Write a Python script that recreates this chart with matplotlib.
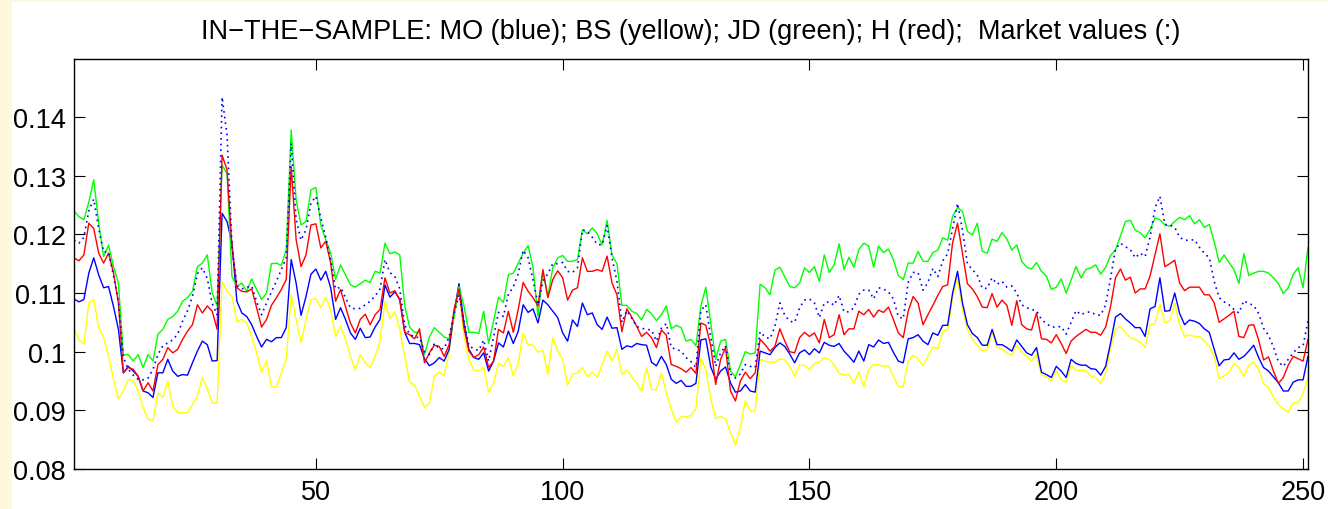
import numpy as np
import matplotlib
matplotlib.use("Agg")
import matplotlib.pyplot as plt
from matplotlib.patches import Rectangle
from matplotlib.ticker import FuncFormatter

plt.rcParams['font.family'] = ['Liberation Sans', 'DejaVu Sans']

# values, in thousandths (0.124 -> 124.0)
mo = [109.0, 108.5, 108.9, 113.4, 116.0, 113.1, 110.9, 111.1, 107.7, 103.8,
      96.4, 97.5, 96.7, 95.8, 93.3, 93.0, 92.2, 96.4, 96.4, 98.7,
      96.7, 95.8, 96.1, 96.0, 98.1, 100.1, 101.8, 101.2, 98.4, 98.5,
      123.6, 122.2, 118.5, 108.6, 106.6, 106.0, 104.6, 102.6, 100.8, 102.1,
      101.7, 102.4, 102.4, 104.1, 115.7, 111.7, 106.2, 109.4, 113.2, 114.1,
      112.2, 113.7, 110.9, 105.5, 107.5, 105.5, 103.2, 102.1, 104.0, 102.4,
      102.5, 104.2, 105.5, 111.4, 109.3, 110.2, 108.9, 103.3, 101.4, 101.4,
      101.2, 98.8, 97.6, 98.1, 99.0, 98.4, 100.4, 106.6, 111.6, 104.9,
      100.4, 99.0, 98.7, 99.8, 96.7, 98.4, 101.5, 100.8, 103.5, 101.4,
      103.5, 108.0, 106.7, 107.3, 104.9, 108.8, 108.0, 106.9, 105.8, 103.2,
      101.8, 105.4, 104.3, 108.3, 106.3, 106.6, 104.6, 103.8, 105.9, 104.0,
      104.1, 100.4, 101.0, 100.8, 101.4, 101.2, 101.1, 98.2, 97.6, 99.2,
      97.8, 95.3, 94.6, 95.1, 94.1, 94.1, 94.6, 102.0, 102.2, 97.4,
      95.3, 96.7, 97.4, 94.7, 93.1, 93.3, 94.4, 93.3, 93.1, 100.1,
      99.8, 99.5, 100.7, 101.5, 100.9, 99.6, 98.1, 99.8, 100.3, 99.5,
      100.5, 99.8, 101.6, 101.1, 100.9, 101.4, 100.1, 99.2, 98.2, 100.1,
      98.4, 101.2, 100.8, 102.0, 101.4, 101.6, 99.9, 98.4, 98.1, 102.2,
      102.4, 102.9, 101.8, 101.2, 103.2, 102.8, 104.5, 104.5, 110.0, 113.7,
      108.3, 104.6, 103.1, 102.4, 101.1, 101.1, 103.8, 101.2, 101.2, 100.7,
      100.1, 102.0, 100.9, 99.8, 99.4, 100.7, 96.5, 96.1, 95.6, 97.5,
      96.7, 95.6, 98.7, 98.0, 97.7, 97.7, 97.1, 97.0, 96.0, 97.5,
      101.5, 105.9, 106.5, 105.6, 104.9, 104.1, 104.1, 102.6, 107.3, 107.7,
      112.6, 106.9, 107.0, 110.0, 106.5, 104.6, 105.4, 105.2, 104.8, 103.9,
      103.3, 100.4, 97.6, 98.6, 98.7, 99.8, 98.7, 99.2, 100.1, 101.1,
      99.0, 97.3, 96.7, 95.7, 94.7, 93.3, 93.3, 94.8, 95.2, 95.2,
      99.2]

bs = [104.0, 102.0, 101.3, 108.3, 108.9, 104.1, 102.4, 99.2, 95.3, 91.9,
      93.3, 95.3, 95.0, 93.3, 90.5, 88.5, 88.2, 93.0, 92.2, 95.0,
      90.7, 89.6, 89.6, 89.6, 91.0, 92.4, 95.6, 93.6, 91.3, 91.2,
      112.0, 110.3, 109.4, 105.2, 105.5, 104.9, 102.6, 99.8, 96.5, 98.4,
      94.0, 94.0, 96.4, 98.7, 109.7, 105.5, 101.5, 105.5, 108.9, 109.0,
      107.5, 109.2, 107.2, 102.6, 104.3, 102.1, 99.2, 96.9, 99.5, 98.1,
      97.3, 99.2, 101.8, 108.6, 105.6, 106.8, 103.8, 99.2, 94.8, 94.3,
      92.4, 90.5, 91.2, 95.8, 96.5, 95.9, 100.1, 106.0, 110.6, 102.6,
      98.7, 96.9, 96.7, 97.3, 93.1, 94.6, 98.0, 97.5, 99.0, 95.9,
      98.0, 103.2, 101.2, 101.1, 99.9, 100.3, 96.1, 102.4, 100.1, 98.7,
      94.3, 96.2, 96.4, 97.3, 95.7, 96.5, 95.6, 97.8, 100.1, 98.4,
      100.4, 96.1, 96.9, 95.7, 94.7, 93.3, 97.3, 93.6, 93.5, 96.4,
      93.0, 90.2, 88.0, 88.9, 88.9, 89.1, 90.3, 98.8, 97.0, 91.9,
      88.6, 89.0, 88.5, 86.2, 84.1, 87.1, 91.6, 89.9, 89.9, 98.7,
      98.4, 98.2, 98.2, 98.8, 98.6, 97.5, 95.8, 97.7, 97.7, 97.0,
      98.0, 98.2, 99.0, 98.7, 97.7, 96.3, 96.0, 96.1, 94.6, 96.6,
      94.0, 97.0, 97.8, 97.8, 97.5, 97.6, 95.8, 94.1, 94.0, 98.4,
      99.4, 98.8, 97.6, 99.2, 100.8, 100.5, 103.5, 103.8, 109.2, 112.6,
      107.2, 103.8, 102.1, 101.1, 100.1, 100.3, 103.3, 100.8, 100.4, 99.8,
      99.4, 101.1, 99.8, 99.2, 98.4, 99.5, 96.0, 95.8, 95.0, 96.7,
      95.2, 94.8, 97.6, 96.8, 96.8, 96.8, 95.8, 95.6, 94.6, 96.4,
      100.5, 103.9, 104.3, 103.3, 102.4, 102.1, 101.6, 100.7, 104.6, 104.8,
      108.1, 104.9, 105.2, 108.3, 104.6, 102.6, 102.9, 102.6, 102.6, 101.8,
      100.9, 99.2, 95.4, 95.9, 96.5, 98.0, 97.3, 95.8, 97.7, 98.2,
      97.0, 94.6, 93.9, 92.2, 91.0, 90.3, 89.7, 91.3, 91.3, 92.9,
      95.6]

jd = [124.0, 123.0, 122.5, 125.5, 129.3, 122.0, 116.2, 118.2, 114.5, 111.7,
      99.5, 99.5, 98.4, 99.5, 97.3, 99.5, 98.4, 103.0, 103.8, 105.5,
      106.0, 106.9, 108.6, 109.2, 110.3, 114.5, 115.1, 116.5, 110.0, 107.8,
      131.8, 130.4, 112.8, 111.1, 111.7, 110.3, 112.4, 110.6, 108.9, 110.0,
      115.0, 115.1, 114.7, 117.4, 137.8, 125.9, 121.6, 122.2, 127.6, 128.0,
      121.6, 119.1, 116.8, 112.3, 114.8, 113.1, 111.4, 111.0, 111.6, 112.2,
      111.8, 113.7, 113.4, 118.5, 116.7, 117.0, 116.5, 107.8, 104.2, 103.3,
      103.3, 99.5, 102.5, 104.1, 103.3, 102.5, 102.2, 106.0, 111.1, 107.8,
      103.3, 103.3, 103.1, 106.9, 101.4, 105.2, 109.3, 108.4, 113.1, 113.4,
      115.1, 116.8, 118.1, 114.3, 106.0, 113.7, 109.4, 114.3, 116.0, 116.4,
      115.4, 115.4, 115.7, 120.8, 120.1, 121.1, 120.1, 118.2, 122.4, 116.5,
      115.0, 107.9, 107.9, 106.9, 106.5, 105.4, 107.2, 106.5, 105.3, 106.3,
      107.8, 103.9, 104.5, 104.1, 101.8, 102.1, 101.0, 107.8, 111.0, 104.9,
      98.7, 101.8, 102.1, 96.7, 95.7, 97.8, 100.0, 99.6, 99.8, 111.5,
      110.9, 109.7, 113.9, 114.4, 112.8, 111.1, 110.9, 111.7, 114.3, 113.5,
      114.5, 112.0, 116.5, 113.5, 114.8, 118.4, 114.0, 116.1, 114.4, 117.4,
      118.5, 118.0, 114.4, 118.0, 116.9, 117.5, 115.7, 113.0, 112.3, 115.1,
      115.1, 117.1, 115.4, 115.4, 116.9, 117.3, 119.4, 119.0, 123.1, 124.6,
      123.9, 120.5, 119.9, 121.9, 117.1, 116.8, 119.2, 118.8, 120.3, 119.2,
      117.3, 118.2, 115.4, 114.4, 114.1, 115.2, 113.7, 112.9, 110.6, 111.0,
      112.4, 110.0, 112.2, 114.5, 112.6, 114.0, 114.3, 114.8, 113.2, 114.4,
      116.4, 117.4, 119.7, 122.2, 122.4, 120.7, 120.3, 119.4, 120.8, 122.8,
      122.5, 121.6, 121.4, 122.2, 122.9, 122.5, 123.2, 121.8, 122.5, 121.2,
      121.7, 118.8, 115.2, 116.5, 115.2, 114.0, 111.6, 116.7, 113.0, 113.4,
      113.7, 113.7, 113.4, 112.6, 111.6, 109.9, 110.9, 113.2, 114.3, 110.9,
      117.8]

h = [116.0, 115.5, 116.5, 121.9, 121.0, 116.8, 115.1, 116.8, 113.4, 108.3,
     96.4, 97.3, 97.0, 95.8, 93.3, 94.7, 93.3, 97.8, 98.7, 100.7,
     99.8, 100.4, 102.1, 103.5, 104.6, 108.0, 106.6, 107.8, 106.9, 103.8,
     133.5, 131.0, 118.0, 110.9, 110.3, 110.2, 110.7, 107.5, 104.2, 105.5,
     107.9, 109.2, 110.6, 112.3, 131.6, 119.1, 114.5, 116.5, 121.6, 121.8,
     117.7, 118.8, 115.1, 108.6, 110.6, 107.7, 104.9, 103.2, 105.5, 106.4,
     104.6, 106.3, 107.2, 112.6, 110.0, 110.4, 108.8, 103.3, 102.9, 102.2,
     103.9, 98.1, 99.8, 101.1, 100.9, 99.2, 101.2, 107.2, 110.7, 104.1,
     100.1, 99.0, 99.5, 100.8, 97.3, 98.4, 103.8, 103.2, 106.9, 103.3,
     107.2, 111.8, 110.3, 109.2, 107.8, 114.0, 109.2, 112.3, 113.8, 112.6,
     108.8, 110.5, 110.9, 116.0, 113.7, 113.7, 114.0, 113.7, 116.3, 111.7,
     109.7, 103.4, 107.3, 105.9, 104.3, 102.6, 103.3, 102.4, 100.7, 103.7,
     102.8, 97.8, 97.5, 97.1, 96.5, 97.3, 96.3, 104.9, 104.5, 101.0,
     94.4, 98.7, 100.7, 93.3, 91.6, 95.0, 96.5, 95.4, 96.4, 102.1,
     101.2, 100.1, 100.9, 103.9, 101.8, 100.0, 99.8, 102.4, 103.3, 102.6,
     103.2, 101.5, 105.5, 102.4, 102.9, 106.3, 102.9, 103.9, 103.9, 106.9,
     106.3, 107.2, 105.9, 107.1, 106.7, 107.6, 105.5, 103.2, 102.4, 106.9,
     109.4, 108.3, 104.6, 106.3, 107.9, 109.6, 111.1, 111.4, 118.6, 121.9,
     116.8, 111.6, 110.7, 109.4, 107.6, 107.5, 109.9, 107.6, 108.8, 107.9,
     104.5, 108.7, 104.6, 103.9, 103.7, 106.6, 102.2, 102.1, 101.5, 102.9,
     101.4, 99.7, 101.8, 102.6, 103.2, 103.8, 103.3, 103.3, 102.8, 104.2,
     107.7, 112.6, 114.1, 112.2, 112.7, 110.0, 110.7, 110.7, 112.9, 116.5,
     120.1, 114.5, 115.0, 115.6, 111.7, 110.4, 111.0, 111.0, 111.0, 109.7,
     109.7, 108.3, 105.0, 105.6, 106.2, 106.9, 102.6, 102.4, 104.5, 104.6,
     102.0, 98.6, 99.1, 96.7, 94.6, 95.6, 97.7, 99.2, 98.8, 98.4,
     102.1]

market = [119.0, 118.5, 119.5, 124.0, 126.0, 121.0, 117.0, 117.0, 113.0, 108.6,
          99.0, 97.0, 96.0, 95.3, 95.2, 95.5, 97.0, 99.5, 101.0, 101.5,
          102.0, 103.0, 105.2, 107.0, 109.4, 113.3, 114.3, 112.5, 108.2, 106.3,
          143.4, 137.0, 118.0, 111.2, 110.7, 111.0, 111.2, 108.5, 106.3, 108.3,
          110.2, 112.0, 114.0, 116.0, 135.5, 122.5, 119.0, 120.8, 125.3, 126.5,
          122.8, 119.5, 115.5, 110.7, 111.0, 109.2, 107.5, 107.3, 107.4, 108.0,
          108.6, 109.5, 110.7, 115.7, 113.5, 112.8, 110.7, 104.5, 103.0, 102.5,
          102.4, 100.0, 99.5, 101.4, 100.5, 100.5, 102.5, 106.5, 109.7, 105.2,
          101.0, 100.5, 100.2, 102.0, 98.4, 102.5, 106.7, 106.0, 109.8, 111.0,
          113.3, 117.3, 116.0, 112.2, 108.0, 112.0, 113.3, 115.0, 115.0, 115.2,
          113.7, 113.5, 114.3, 120.8, 120.5, 119.5, 118.3, 118.2, 121.5, 116.0,
          112.0, 105.0, 107.0, 105.7, 104.3, 104.0, 103.8, 103.7, 101.8, 104.0,
          104.8, 100.7, 100.4, 100.1, 99.0, 98.3, 97.3, 107.0, 108.0, 102.5,
          97.5, 99.8, 101.0, 96.2, 95.5, 96.2, 97.8, 97.5, 97.3, 103.4,
          102.5, 102.2, 104.3, 108.3, 106.2, 105.2, 105.0, 107.5, 108.8, 109.0,
          108.3, 105.8, 108.3, 108.5, 107.9, 109.6, 106.8, 106.8, 107.5, 109.8,
          110.5, 110.5, 109.0, 110.9, 110.7, 110.2, 109.0, 106.0, 105.6, 111.8,
          113.5, 113.5, 110.5, 111.8, 114.2, 112.8, 115.5, 116.7, 121.0, 125.3,
          120.7, 115.0, 114.0, 113.1, 110.8, 110.8, 112.6, 111.5, 112.0, 111.0,
          111.2, 110.0, 108.0, 107.5, 107.2, 107.0, 105.5, 104.8, 104.2, 104.2,
          104.3, 103.0, 105.0, 107.0, 106.3, 106.7, 106.8, 106.3, 106.2, 108.0,
          112.5, 117.5, 118.5, 117.9, 117.4, 116.0, 116.8, 116.2, 119.5, 124.5,
          126.5, 121.7, 121.6, 121.2, 119.5, 119.0, 119.0, 119.1, 117.8, 116.8,
          116.0, 112.0, 109.2, 108.5, 108.0, 107.2, 106.6, 108.7, 108.2, 107.9,
          106.5, 104.0, 102.8, 100.8, 98.3, 97.5, 98.7, 99.8, 100.7, 101.0,
          105.3]

x_ticks = [50, 100, 150, 200, 250]
y_ticks = [0.08, 0.09, 0.10, 0.11, 0.12, 0.13, 0.14]
title = ('IN\u2212THE\u2212SAMPLE: MO (blue); BS (yellow); JD (green); '
         'H (red);  Market values (:)')

mo = np.array(mo) / 1000
bs = np.array(bs) / 1000
jd = np.array(jd) / 1000
h = np.array(h) / 1000
market = np.array(market) / 1000
days = np.arange(1, len(mo) + 1)

fig = plt.figure(figsize=(13.28, 5.10), dpi=100, facecolor='white')
# cream strips on the left and top edge
cream = '#fff8dc'
fig.patches.append(Rectangle((0, 0), 12 / 1328, 1, transform=fig.transFigure,
                             facecolor=cream, edgecolor='none', zorder=-10))
fig.patches.append(Rectangle((0, 507 / 510), 1, 3 / 510, transform=fig.transFigure,
                             facecolor=cream, edgecolor='none', zorder=-10))

ax = fig.add_axes([74 / 1328, 40 / 510, 1234 / 1328, 410 / 510])
ax.plot(days, bs, color=(1, 1, 0), lw=1.0)
ax.plot(days, mo, color=(0, 0, 1), lw=1.0)
ax.plot(days, jd, color=(0, 1, 0), lw=1.0)
ax.plot(days, h, color=(1, 0, 0), lw=1.0)
ax.plot(days, market, color=(0, 0, 1), lw=1.2, dashes=(1, 2.4))

ax.set_xlim(1, 251)
ax.set_ylim(0.08, 0.1499)
ax.set_xticks(x_ticks)
ax.set_yticks(y_ticks)
ax.yaxis.set_major_formatter(FuncFormatter(lambda v, p: '%g' % round(v, 3)))
ax.tick_params(direction='in', length=8, width=0.8, labelsize=19.5,
               top=True, right=True, colors='black')
ax.tick_params(axis='x', pad=7)
ax.tick_params(axis='y', pad=6)
for s in ax.spines.values():
    s.set_linewidth(1.0)

ax.set_title(title, fontsize=19.5, pad=15)

fig.savefig('out.png', dpi=100)
